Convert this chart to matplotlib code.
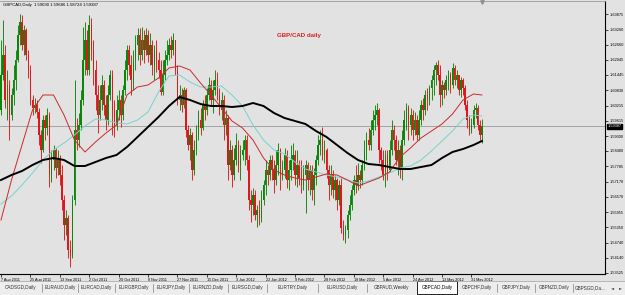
import numpy as np
import matplotlib
matplotlib.use("Agg")
import matplotlib.pyplot as plt
from matplotlib.patches import Rectangle
import matplotlib.transforms as mtransforms

# ---------------- data (GBPCAD daily) ----------------
first_open = 1.6004
close = [1.6144,1.6224,1.6044,1.6104,1.5984,1.6064,1.6124,1.6204,1.6304,1.6356,
         1.6264,1.6324,1.6224,1.6164,1.6044,1.6012,1.6024,1.5996,1.5904,1.5844,
         1.5964,1.5932,1.5984,1.5744,1.5804,1.5844,1.5772,1.5812,1.5744,1.5644,
         1.5544,1.5572,1.5444,1.5424,1.5644,1.5924,1.5884,1.5944,1.6044,1.6204,
         1.6284,1.6164,1.6344,1.6244,1.6164,1.6064,1.5984,1.6044,1.6104,1.6024,
         1.5964,1.6064,1.6144,1.6004,1.5944,1.6004,1.6044,1.5984,1.6084,1.6164,
         1.6244,1.6184,1.6124,1.6204,1.6264,1.6304,1.6224,1.6284,1.6244,1.6304,
         1.6224,1.6264,1.6184,1.6244,1.6204,1.6164,1.6076,1.6144,1.6204,1.6224,
         1.6264,1.6244,1.6284,1.6164,1.6044,1.6064,1.6024,1.6084,1.5924,1.5864,
         1.5904,1.5764,1.5844,1.5904,1.5964,1.5932,1.6024,1.6004,1.6064,1.6104,
         1.6044,1.6084,1.6124,1.6064,1.6004,1.6044,1.5944,1.5972,1.5784,1.5844,
         1.5744,1.5804,1.5864,1.5784,1.5824,1.5844,1.5884,1.5804,1.5644,1.5624,
         1.5664,1.5584,1.5604,1.5572,1.5644,1.5704,1.5764,1.5744,1.5804,1.5764,
         1.5724,1.5784,1.5844,1.5744,1.5764,1.5824,1.5724,1.5764,1.5804,1.5824,
         1.5744,1.5784,1.5732,1.5704,1.5744,1.5784,1.5724,1.5764,1.5684,1.5744,
         1.5804,1.5864,1.5884,1.5824,1.5844,1.5764,1.5704,1.5744,1.5684,1.5724,
         1.5644,1.5704,1.5532,1.5504,1.5524,1.5584,1.5624,1.5684,1.5724,1.5704,
         1.5744,1.5724,1.5784,1.5844,1.5884,1.5864,1.5924,1.5964,1.5984,1.6004,
         1.5844,1.5804,1.5744,1.5824,1.5764,1.5844,1.5924,1.5884,1.5804,1.5844,
         1.5764,1.5884,1.5964,1.6012,1.5944,1.5984,1.5924,1.5964,1.5904,1.5964,
         1.6024,1.6004,1.6064,1.6044,1.6092,1.6124,1.6164,1.6184,1.6144,1.6064,
         1.6104,1.6084,1.6124,1.6144,1.6104,1.6172,1.6124,1.6144,1.6084,1.6124,
         1.6092,1.6024,1.5964,1.5924,1.5944,1.6004,1.6012,1.5944,1.5903,1.59387]
high = [1.6284,1.6364,1.6264,1.6164,1.6124,1.6092,1.6184,1.6244,1.6344,1.6388,
        1.6384,1.6344,1.6332,1.6244,1.6184,1.6064,1.6052,1.6044,1.6012,1.5924,
        1.5984,1.5984,1.6012,1.5996,1.5844,1.5864,1.5852,1.5844,1.5824,1.5784,
        1.5664,1.5604,1.5584,1.5484,1.5664,1.6124,1.5972,1.5992,1.6084,1.6336,
        1.6356,1.6324,1.6384,1.6372,1.6284,1.6204,1.6104,1.6104,1.6144,1.6124,
        1.6064,1.6104,1.6164,1.6164,1.6044,1.6064,1.6084,1.6064,1.6104,1.6204,
        1.6264,1.6264,1.6224,1.6244,1.6304,1.6332,1.6332,1.6336,1.6324,1.6332,
        1.6324,1.6312,1.6284,1.6264,1.6284,1.6236,1.6204,1.6204,1.6244,1.6284,
        1.6292,1.6300,1.6312,1.6284,1.6184,1.6104,1.6092,1.6096,1.6092,1.5944,
        1.5932,1.5916,1.5884,1.5944,1.6004,1.6012,1.6044,1.6064,1.6092,1.6136,
        1.6124,1.6124,1.6164,1.6156,1.6092,1.6076,1.6064,1.6004,1.5984,1.5884,
        1.5864,1.5852,1.5912,1.5884,1.5864,1.5884,1.5904,1.5904,1.5824,1.5684,
        1.5692,1.5684,1.5624,1.5644,1.5684,1.5724,1.5804,1.5784,1.5824,1.5824,
        1.5804,1.5844,1.5872,1.5852,1.5804,1.5852,1.5844,1.5804,1.5864,1.5872,
        1.5844,1.5844,1.5804,1.5804,1.5784,1.5804,1.5796,1.5784,1.5784,1.5772,
        1.5824,1.5904,1.5924,1.5936,1.5884,1.5852,1.5784,1.5784,1.5764,1.5744,
        1.5732,1.5724,1.5732,1.5564,1.5544,1.5604,1.5664,1.5704,1.5744,1.5784,
        1.5792,1.5764,1.5804,1.5884,1.5916,1.5932,1.5964,1.6004,1.6024,1.6032,
        1.6012,1.5856,1.5844,1.5844,1.5844,1.5884,1.5964,1.5944,1.5904,1.5884,
        1.5864,1.5924,1.6004,1.6032,1.6024,1.6012,1.6004,1.5996,1.5984,1.6004,
        1.6044,1.6052,1.6084,1.6092,1.6104,1.6144,1.6184,1.6196,1.6204,1.6184,
        1.6124,1.6116,1.6144,1.6164,1.6156,1.6192,1.6184,1.6164,1.6144,1.6136,
        1.6132,1.6104,1.6044,1.5984,1.5972,1.6024,1.6032,1.6024,1.5964,1.59686]
low = [1.5984,1.6124,1.6012,1.5964,1.5884,1.5964,1.6024,1.6084,1.6196,1.6264,
       1.6244,1.6224,1.6204,1.6132,1.6024,1.5984,1.5992,1.5972,1.5864,1.5792,
       1.5836,1.5884,1.5904,1.5696,1.5716,1.5764,1.5732,1.5744,1.5704,1.5604,
       1.5484,1.5504,1.5412,1.5376,1.5412,1.5624,1.5844,1.5856,1.5924,1.6024,
       1.6144,1.6144,1.6144,1.6204,1.6104,1.6004,1.5912,1.5964,1.6004,1.5984,
       1.5924,1.5944,1.6044,1.5904,1.5896,1.5924,1.5964,1.5936,1.5964,1.6064,
       1.6124,1.6144,1.6064,1.6084,1.6164,1.6204,1.6184,1.6204,1.6192,1.6224,
       1.6196,1.6184,1.6144,1.6124,1.6156,1.6132,1.6064,1.6064,1.6124,1.6184,
       1.6204,1.6212,1.6224,1.6144,1.6024,1.6004,1.5996,1.6012,1.5896,1.5844,
       1.5804,1.5724,1.5744,1.5824,1.5884,1.5904,1.5924,1.5964,1.5984,1.6044,
       1.6024,1.5992,1.6064,1.6044,1.5984,1.5964,1.5884,1.5904,1.5724,1.5764,
       1.5696,1.5724,1.5784,1.5756,1.5724,1.5804,1.5784,1.5764,1.5604,1.5556,
       1.5584,1.5564,1.5536,1.5544,1.5556,1.5624,1.5664,1.5704,1.5724,1.5724,
       1.5672,1.5704,1.5744,1.5684,1.5724,1.5732,1.5692,1.5684,1.5724,1.5764,
       1.5704,1.5696,1.5704,1.5672,1.5684,1.5592,1.5684,1.5664,1.5644,1.5624,
       1.5704,1.5784,1.5824,1.5804,1.5792,1.5732,1.5644,1.5664,1.5652,1.5644,
       1.5604,1.5624,1.5512,1.5484,1.5472,1.5492,1.5564,1.5604,1.5664,1.5672,
       1.5684,1.5692,1.5704,1.5764,1.5804,1.5844,1.5844,1.5904,1.5924,1.5944,
       1.5792,1.5764,1.5724,1.5696,1.5724,1.5756,1.5824,1.5844,1.5784,1.5744,
       1.5732,1.5724,1.5864,1.5924,1.5884,1.5904,1.5884,1.5904,1.5884,1.5884,
       1.5944,1.5964,1.5984,1.6004,1.6024,1.6044,1.6064,1.6104,1.6124,1.6016,
       1.6024,1.6052,1.6064,1.6084,1.6072,1.6092,1.6104,1.6092,1.6064,1.6056,
       1.6064,1.6004,1.5932,1.5904,1.5912,1.5932,1.5972,1.5924,1.5884,1.58724]

# moving averages, read every 5 bars (last point = last bar)
ma_step = 5
ma_black = [1.5724,1.5744,1.5760,1.5784,1.5804,1.5812,1.5804,1.5780,1.5780,1.5796,
            1.5812,1.5824,1.5856,1.5896,1.5936,1.5976,1.6020,1.6056,1.6044,1.6028,
            1.6020,1.6020,1.6016,1.6020,1.6032,1.6020,1.5992,1.5972,1.5960,1.5948,
            1.5920,1.5896,1.5864,1.5832,1.5804,1.5788,1.5784,1.5776,1.5768,1.5768,
            1.5776,1.5784,1.5812,1.5836,1.5848,1.5864,1.5880]
ma_red = [1.5564,1.5724,1.5864,1.6004,1.6064,1.6064,1.5984,1.5884,1.5836,1.5876,
          1.5912,1.5944,1.6064,1.6096,1.6104,1.6132,1.6172,1.6180,1.6164,1.6112,
          1.6064,1.6012,1.5960,1.5932,1.5884,1.5812,1.5764,1.5744,1.5732,1.5724,
          1.5736,1.5748,1.5744,1.5724,1.5700,1.5716,1.5732,1.5756,1.5816,1.5852,
          1.5892,1.5920,1.5948,1.5988,1.6044,1.6068,1.6064]
ma_cyan = [1.5628,1.5660,1.5704,1.5752,1.5804,1.5844,1.5872,1.5904,1.5940,1.5968,
           1.5964,1.5952,1.5948,1.5964,1.5996,1.6076,1.6140,1.6144,1.6116,1.6096,
           1.6096,1.6100,1.6064,1.6020,1.5944,1.5884,1.5844,1.5828,1.5796,1.5768,
           1.5756,1.5744,1.5736,1.5724,1.5712,1.5720,1.5736,1.5752,1.5772,1.5780,
           1.5804,1.5840,1.5880,1.5920,1.5968,1.5984,1.5980]

price_ticks = [1.63875,1.63260,1.62660,1.62045,1.61445,1.60830,1.60215,1.59615,1.59000,
               1.58400,1.57785,1.57170,1.56570,1.55955,1.55350,1.54740,1.54140,1.53525]
date_step = 14
date_labels = ["7 Aug 2011","25 Aug 2011","13 Sep 2011","2 Oct 2011","20 Oct 2011",
               "8 Nov 2011","27 Nov 2011","15 Dec 2011","3 Jan 2012","22 Jan 2012",
               "9 Feb 2012","28 Feb 2012","18 Mar 2012","5 Apr 2012","24 Apr 2012",
               "13 May 2012","31 May 2012"]
tabs = ["CADSGD,Daily","EURAUD,Daily","EURCAD,Daily","EURGBP,Daily","EURJPY,Daily",
        "EURNZD,Daily","EURSGD,Daily","EURTRY,Daily","EURUSD,Daily","GBPAUD,Weekly",
        "GBPCAD,Daily","GBPCHF,Daily","GBPJPY,Daily","GBPNZD,Daily","GBPSGD,Daily"]
active_tab = "GBPCAD,Daily"
header = "GBPCAD,Daily  1.59030 1.59686 1.58724 1.59387"
title = "GBP/CAD daily"

# ---------------- figure ----------------
W, H = 625, 295
BG = "#E2E2E2"
plt.rcParams['font.family'] = ['Liberation Sans', 'DejaVu Sans']
fig = plt.figure(figsize=(W / 100, H / 100), dpi=100)
fig.patch.set_facecolor(BG)

def fx(x):
    return x / W

def fy(y):
    return 1 - y / H

top_px, bot_px, right_px = 1, 274, 605
ax = fig.add_axes([0, fy(bot_px), fx(right_px), (bot_px - top_px) / H])
ax.set_facecolor(BG)

n = len(close)
idx = np.arange(n)
c = np.array(close)
o = np.array([first_open] + close[:-1])
h = np.maximum(np.array(high), np.maximum(o, c))
l = np.minimum(np.array(low), np.minimum(o, c))
up = c >= o
col = np.where(up, "#0B860B", "#E3141B")

spacing = 2.1  # px per bar
ax.set_xlim(-1 / spacing, (right_px - 1) / spacing)
p_top = 1.6444 - 0.0004 * top_px
p_bot = 1.6444 - 0.0004 * bot_px
ax.set_ylim(p_bot, p_top)

ax.vlines(idx, l, h, colors=col, linewidth=0.65, zorder=3)
body = np.maximum(np.abs(c - o), 0.00012)
ax.bar(idx, body, bottom=np.minimum(o, c), width=0.7, color=col, linewidth=0, zorder=4)

ma_idx = list(range(0, n, ma_step))
if ma_idx[-1] != n - 1:
    ma_idx.append(n - 1)
ax.plot(ma_idx[:len(ma_cyan)], ma_cyan, color="#78D2CC", lw=0.7, zorder=5)
ax.plot(ma_idx[:len(ma_red)], ma_red, color="#CC2A2A", lw=0.7, zorder=5)
ax.plot(ma_idx[:len(ma_black)], ma_black, color="black", lw=1.4, zorder=6)

# bid line
ax.axhline(close[-1], color="#9A9A9A", lw=0.6, zorder=2)

# shift marker
ax.plot([n - 1], [p_top - 0.0004], marker="v", ms=2.5, color="#909090", clip_on=False, zorder=7)

# title
ax.text(298 / spacing, 1.6444 - 0.0004 * 35, title, color="#D42020", fontsize=4.4,
        fontweight="bold", ha="center", va="center")

# spines
ax.spines["left"].set_visible(False)
ax.spines["top"].set_color("#9A9A9A")
ax.spines["top"].set_linewidth(0.6)
ax.spines["right"].set_color("black")
ax.spines["right"].set_linewidth(0.8)
ax.spines["bottom"].set_color("black")
ax.spines["bottom"].set_linewidth(0.8)

# price axis
ax.yaxis.tick_right()
ax.set_yticks(price_ticks)
ax.set_yticklabels([f"{v:.5f}" for v in price_ticks])
ax.tick_params(axis="y", length=2, width=0.5, pad=1.2, labelsize=2.8, colors="black")

# current price box
trans = mtransforms.blended_transform_factory(ax.transAxes, ax.transData)
ax.text(1.004, close[-1], f"{close[-1]:.5f}", transform=trans, fontsize=2.8, color="white",
        ha="left", va="center", zorder=10, clip_on=False,
        bbox=dict(boxstyle="square,pad=0.15", fc="black", ec="black"))

# date axis
ticks = [i * date_step for i in range(len(date_labels))]
ax.set_xticks(ticks)
ax.set_xticklabels(date_labels)
ax.tick_params(axis="x", length=2, width=0.5, pad=1.0, labelsize=2.7, colors="black")
for t in ax.get_xticklabels():
    t.set_ha("left")

# header text
fig.text(fx(3), fy(5), header, fontsize=3.1, color="black", ha="left", va="center")

# tab bar
fig.patches.append(Rectangle((0, 0), 1, fy(281), transform=fig.transFigure,
                             facecolor="#EDEDED", edgecolor="none", zorder=0))
fig.add_artist(plt.Line2D([0, 1], [fy(281), fy(281)], transform=fig.transFigure,
                          color="#A0A0A0", lw=0.5))
seps = [42, 78, 115, 153, 189, 228, 267, 318, 367, 417, 457, 497, 535, 573]
edges = [0] + seps + [607]
for k, name in enumerate(tabs):
    x0, x1 = edges[k], edges[k + 1]
    xc = (x0 + x1) / 2
    if name == active_tab:
        fig.patches.append(Rectangle((fx(x0), fy(294)), fx(x1 - x0), (294 - 281) / H,
                                     transform=fig.transFigure, facecolor="white",
                                     edgecolor="black", lw=0.6, zorder=1))
        fig.text(fx(xc), fy(288), name, fontsize=3.3, color="black", ha="center",
                 va="center", zorder=2)
    else:
        fig.text(fx(xc), fy(288), name if k < len(tabs) - 1 else name[:9] + "...",
                 fontsize=3.3, color="#303030", ha="center", va="center", zorder=2)
for sx in seps:
    if sx in (417, 457):
        continue
    fig.add_artist(plt.Line2D([fx(sx), fx(sx)], [fy(292), fy(284)], transform=fig.transFigure,
                              color="#808080", lw=0.5))
fig.text(fx(613), fy(288), "\u25c4", fontsize=3, color="#404040", ha="center", va="center",
         family="DejaVu Sans")
fig.text(fx(621), fy(288), "\u25ba", fontsize=3, color="#404040", ha="center", va="center",
         family="DejaVu Sans")

fig.savefig("out.png", dpi=100, facecolor=fig.get_facecolor())
